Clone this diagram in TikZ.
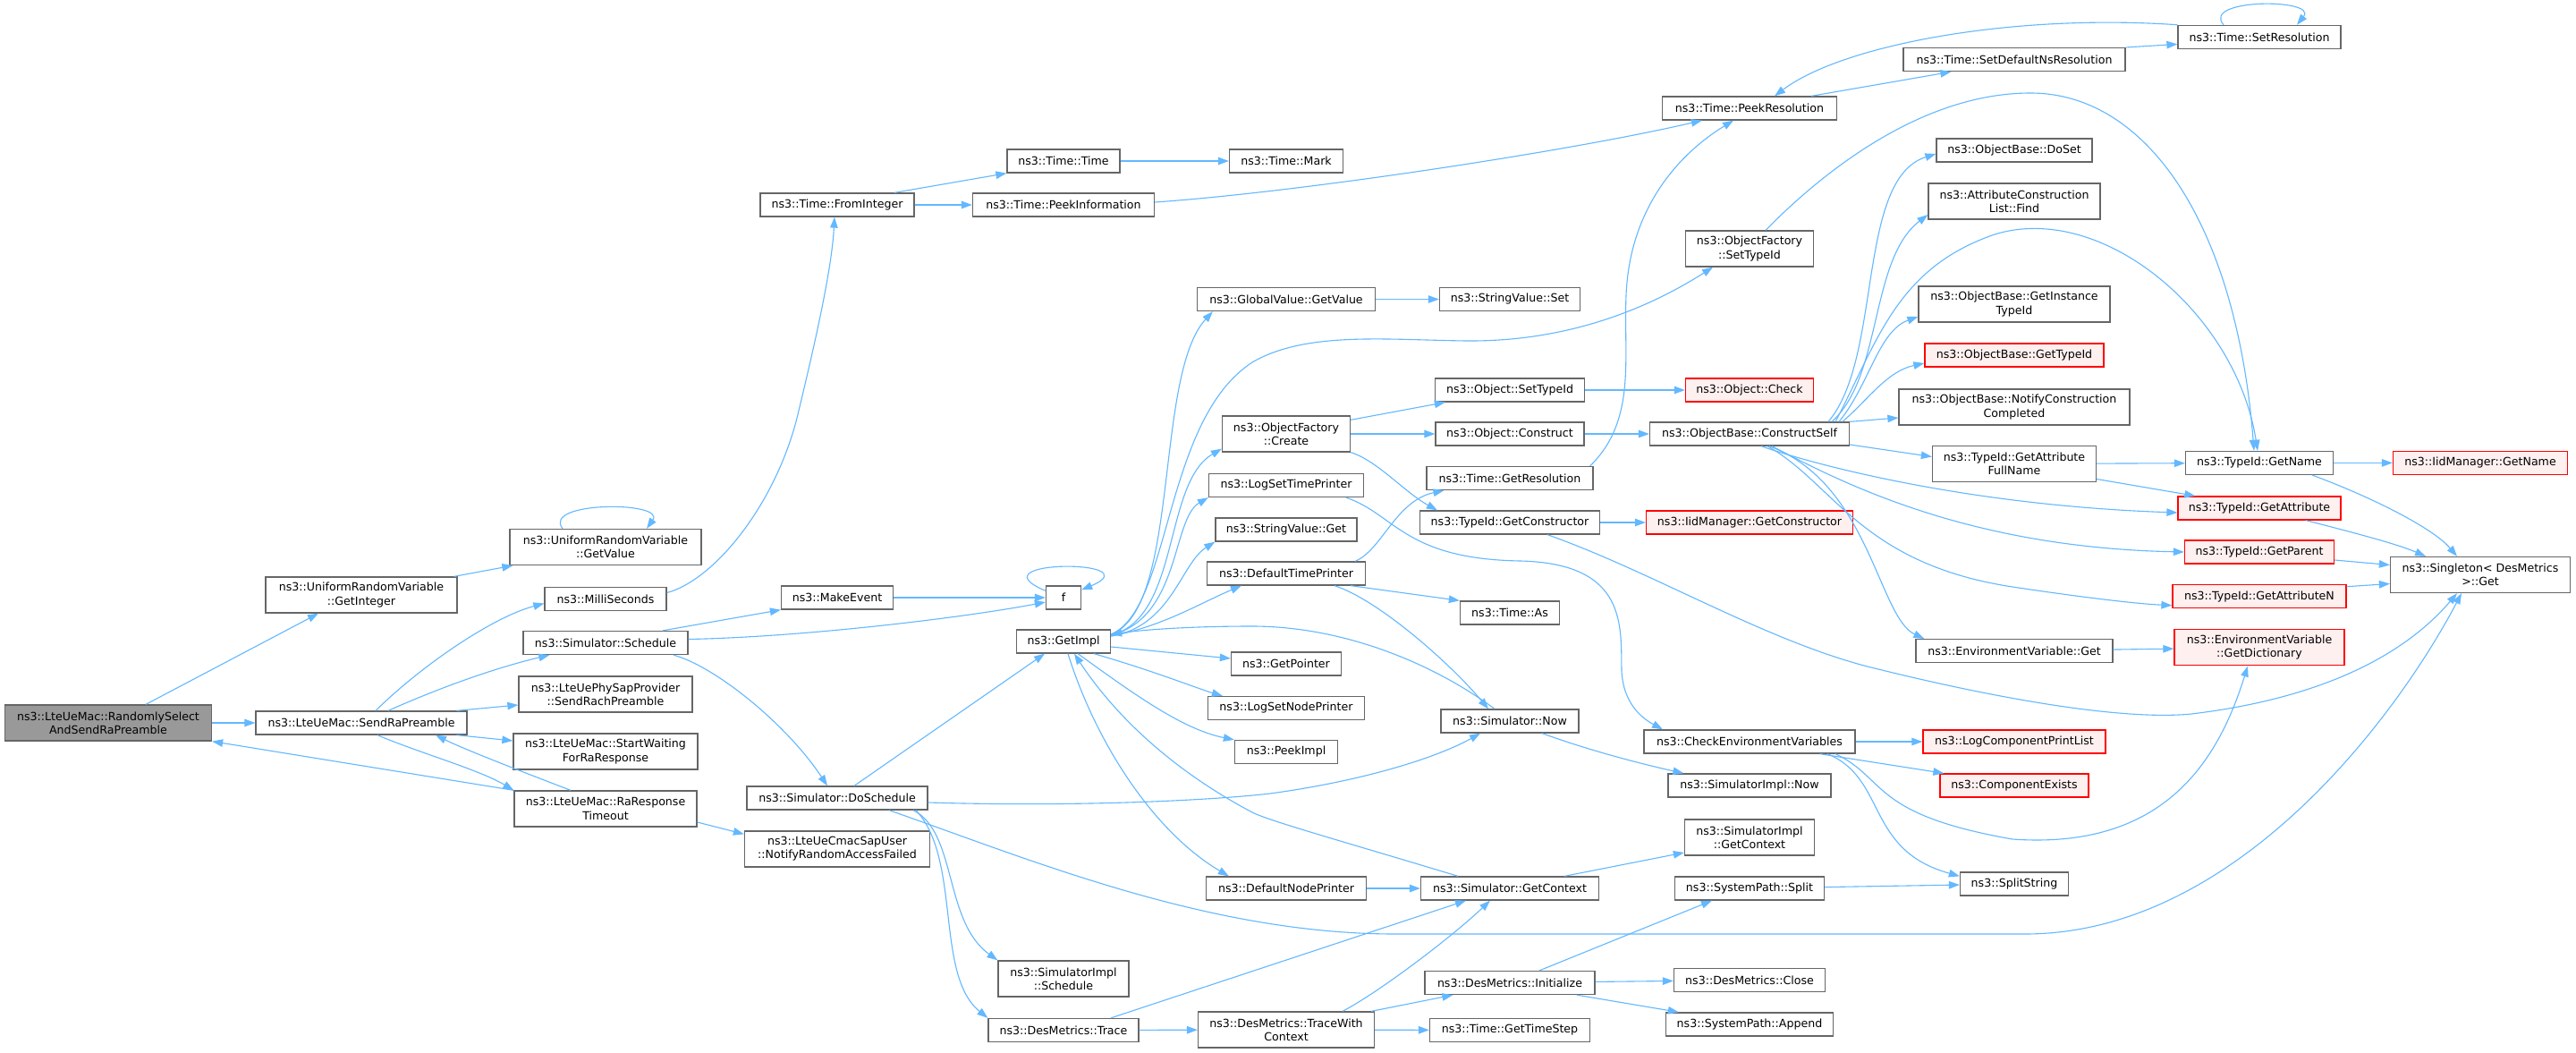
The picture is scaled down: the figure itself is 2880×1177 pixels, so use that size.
\documentclass[tikz,border=0pt]{standalone}
\usepackage{fontspec}
\setmainfont{DejaVu Sans}
\usetikzlibrary{arrows.meta}
\definecolor{edgeblue}{HTML}{63B8FF}
\definecolor{boxgray}{HTML}{666666}
\definecolor{rootgray}{HTML}{999999}
\definecolor{redfill}{HTML}{FFF0F0}
\tikzstyle{call} = [rectangle, draw=boxgray, fill=white, line width=1.3pt, inner sep=0pt, minimum height=26, align=center, text=black, font=\fontsize{12.6}{15.2}\selectfont]
\tikzstyle{calltwo} = [call, minimum height=40]
\tikzstyle{startnode} = [calltwo, fill=rootgray]
\tikzstyle{truncated} = [call, draw=red, fill=redfill]
\tikzstyle{truncatedtwo} = [truncated, minimum height=40]
\tikzstyle{arrow} = [line width=1.1pt, draw=edgeblue, ->, >={Triangle[length=12pt,width=8.5pt]}]

\begin{document}
\begin{tikzpicture}[x=1pt, y=-1pt]
\useasboundingbox (0,0) rectangle (2880,1177);
\fill [white] (0,0) rectangle (2880,1177);

\node (rsel)      [startnode, minimum width=231] at (121,808)  {ns3::LteUeMac::RandomlySelect\\AndSendRaPreamble};
\node (getint)    [calltwo, minimum width=214]   at (404,665)  {ns3::UniformRandomVariable\\::GetInteger};
\node (sendra)    [call, minimum width=236]      at (404,808)  {ns3::LteUeMac::SendRaPreamble};
\node (getval)    [calltwo, minimum width=214]   at (677,611.5) {ns3::UniformRandomVariable\\::GetValue};
\node (milli)     [call, minimum width=136]      at (677,669.5) {ns3::MilliSeconds};
\node (sched)     [call, minimum width=184]      at (677,718.5) {ns3::Simulator::Schedule};
\node (rach)      [calltwo, minimum width=194]   at (677,776)  {ns3::LteUePhySapProvider\\::SendRachPreamble};
\node (startw)    [calltwo, minimum width=206]   at (677,840)  {ns3::LteUeMac::StartWaiting\\ForRaResponse};
\node (timeout)   [calltwo, minimum width=204]   at (677,904)  {ns3::LteUeMac::RaResponse\\Timeout};

\node (fromint)   [call, minimum width=172]      at (936,229)  {ns3::Time::FromInteger};
\node (mkevent)   [call, minimum width=125]      at (936,668)  {ns3::MakeEvent};
\node (dosched)   [call, minimum width=202]      at (936,892)  {ns3::Simulator::DoSchedule};
\node (notify)    [calltwo, minimum width=207]   at (936,949)  {ns3::LteUeCmacSapUser\\::NotifyRandomAccessFailed};

\node (ttime)     [call, minimum width=126]      at (1189,180) {ns3::Time::Time};
\node (peekinfo)  [call, minimum width=203]      at (1189,229) {ns3::Time::PeekInformation};
\node (ff)        [call, minimum width=39]       at (1189,668) {f};
\node (getimpl)   [call, minimum width=105]      at (1189,717) {ns3::GetImpl};
\node (implsched) [calltwo, minimum width=146]   at (1189,1094) {ns3::SimulatorImpl\\::Schedule};
\node (trace)     [call, minimum width=168]      at (1189,1151.5) {ns3::DesMetrics::Trace};

\node (mark)      [call, minimum width=127]      at (1438,180) {ns3::Time::Mark};
\node (gvget)     [call, minimum width=199]      at (1438,334.5) {ns3::GlobalValue::GetValue};
\node (ofcreate)  [calltwo, minimum width=143]   at (1438,485) {ns3::ObjectFactory\\::Create};
\node (logtime)   [call, minimum width=173]      at (1438,542.5) {ns3::LogSetTimePrinter};
\node (svget)     [call, minimum width=158]      at (1438,592) {ns3::StringValue::Get};
\node (deftime)   [call, minimum width=177]      at (1438,641) {ns3::DefaultTimePrinter};
\node (getptr)    [call, minimum width=123]      at (1438,742) {ns3::GetPointer};
\node (lognode)   [call, minimum width=175]      at (1438,791.5) {ns3::LogSetNodePrinter};
\node (peekimpl)  [call, minimum width=115]      at (1438,840.5) {ns3::PeekImpl};
\node (defnode)   [call, minimum width=179]      at (1438,993) {ns3::DefaultNodePrinter};
\node (tracectx)  [calltwo, minimum width=197]   at (1438,1151) {ns3::DesMetrics::TraceWith\\Context};

\node (svset)     [call, minimum width=157]      at (1688,334.5) {ns3::StringValue::Set};
\node (objsettid) [call, minimum width=167]      at (1688,436) {ns3::Object::SetTypeId};
\node (objconstr) [call, minimum width=166]      at (1688,485) {ns3::Object::Construct};
\node (getres)    [call, minimum width=186]      at (1688,534.5) {ns3::Time::GetResolution};
\node (getctor)   [call, minimum width=201]      at (1688,584) {ns3::TypeId::GetConstructor};
\node (timeas)    [call, minimum width=111]      at (1688,685) {ns3::Time::As};
\node (simnow)    [call, minimum width=154]      at (1688,806) {ns3::Simulator::Now};
\node (simctx)    [call, minimum width=199]      at (1688,993) {ns3::Simulator::GetContext};
\node (dminit)    [call, minimum width=190]      at (1688,1098.5) {ns3::DesMetrics::Initialize};
\node (timestep)  [call, minimum width=179]      at (1688,1151.5) {ns3::Time::GetTimeStep};

\node (peekres)   [call, minimum width=195]      at (1956,121) {ns3::Time::PeekResolution};
\node (ofsettid)  [calltwo, minimum width=143]   at (1956,278) {ns3::ObjectFactory\\::SetTypeId};
\node (objcheck)  [truncated, minimum width=143] at (1956,436) {ns3::Object::Check};
\node (constself) [call, minimum width=223]      at (1956,485) {ns3::ObjectBase::ConstructSelf};
\node (iidctor)   [truncated, minimum width=231] at (1956,584) {ns3::IidManager::GetConstructor};
\node (checkenv)  [call, minimum width=236]      at (1956,829) {ns3::CheckEnvironmentVariables};
\node (implnow)   [call, minimum width=182]      at (1956,878) {ns3::SimulatorImpl::Now};
\node (implctx)   [calltwo, minimum width=145]   at (1956,936) {ns3::SimulatorImpl\\::GetContext};
\node (spsplit)   [call, minimum width=167]      at (1956,993) {ns3::SystemPath::Split};
\node (dmclose)   [call, minimum width=169]      at (1956,1095.5) {ns3::DesMetrics::Close};
\node (spappend)  [call, minimum width=187]      at (1956,1145) {ns3::SystemPath::Append};

\node (setdefns)  [call, minimum width=248]      at (2252,66.6) {ns3::Time::SetDefaultNsResolution};
\node (doset)     [call, minimum width=174]      at (2252,168) {ns3::ObjectBase::DoSet};
\node (attrfind)  [calltwo, minimum width=192]   at (2252,225) {ns3::AttributeConstruction\\List::Find};
\node (getinst)   [calltwo, minimum width=214]   at (2252,340) {ns3::ObjectBase::GetInstance\\TypeId};
\node (obgettid)  [truncated, minimum width=200] at (2252,397) {ns3::ObjectBase::GetTypeId};
\node (notifycc)  [calltwo, minimum width=258]   at (2252,455) {ns3::ObjectBase::NotifyConstruction\\Completed};
\node (attrfull)  [calltwo, minimum width=183]   at (2252,518.5) {ns3::TypeId::GetAttribute\\FullName};
\node (envget)    [call, minimum width=220]      at (2252,727.6) {ns3::EnvironmentVariable::Get};
\node (logcpl)    [truncated, minimum width=204] at (2252,829) {ns3::LogComponentPrintList};
\node (compex)    [truncated, minimum width=166] at (2252,878) {ns3::ComponentExists};
\node (splitstr)  [call, minimum width=121]      at (2252,988) {ns3::SplitString};

\node (setres)    [call, minimum width=182]      at (2526,41.4) {ns3::Time::SetResolution};
\node (tidname)   [call, minimum width=165]      at (2526,517.4) {ns3::TypeId::GetName};
\node (tidattr)   [truncated, minimum width=182] at (2526,568) {ns3::TypeId::GetAttribute};
\node (tidparent) [truncated, minimum width=167] at (2526,617) {ns3::TypeId::GetParent};
\node (tidattrn)  [truncated, minimum width=194] at (2526,666.7) {ns3::TypeId::GetAttributeN};
\node (envdict)   [truncatedtwo, minimum width=190] at (2526,723.8) {ns3::EnvironmentVariable\\::GetDictionary};

\node (iidname)   [truncated, minimum width=195] at (2773,517.4) {ns3::IidManager::GetName};
\node (singleton) [calltwo, minimum width=201]   at (2773,642.5) {ns3::Singleton< DesMetrics\\ >::Get};

% callers on the left
\draw [arrow] ([xshift=42]rsel.north) -- ([xshift=-48]getint.south);
\draw [arrow] (rsel) -- (sendra);
\draw [arrow] ([xshift=-4]getint.north east) -- ([xshift=4]getval.south west);
\draw [arrow] ([xshift=-48]getval.north) .. controls (605,560) and (745,560) .. ([xshift=46]getval.north);
\draw [arrow] ([xshift=16]sendra.north) .. controls (470,745) and (550,690) .. ([yshift=-5]milli.west);
\draw [arrow] ([xshift=30]sendra.north) .. controls (500,765) and (560,745) .. ([xshift=30]sched.south west);
\draw [arrow] ([xshift=-12]sendra.north east) -- ([yshift=-12]rach.west);
\draw [arrow] ([xshift=-12]sendra.south east) -- ([yshift=12]startw.west);
\draw [arrow] ([xshift=18]sendra.south) .. controls (470,842) and (535,860) .. (timeout.north west);
\draw [arrow] ([xshift=-39]timeout.north) .. controls (590,865) and (520,838) .. ([xshift=83]sendra.south);
\draw [arrow] (timeout.north west) -- (rsel.south east);
\draw [arrow] ([yshift=-15]timeout.east) -- ([yshift=-4]notify.north west);

\draw [arrow] ([yshift=7]milli.east) .. controls (800,648) and (870,560) .. (893,459) .. controls (912,380) and (930,300) .. ([xshift=-3]fromint.south);
\draw [arrow] ([xshift=64]fromint.north) -- (ttime.south west);
\draw [arrow] (fromint) -- (peekinfo);
\draw [arrow] (ttime) -- (mark);
\draw [arrow] ([yshift=3]peekinfo.east) .. controls (1450,215) and (1750,170) .. ([xshift=45]peekres.south west);
\draw [arrow] ([xshift=64]sched.north) -- (mkevent.south west);
\draw [arrow] ([yshift=4]sched.east) .. controls (900,712) and (1080,690) .. ([yshift=-5]ff.west);
\draw [arrow] ([xshift=76]sched.south) .. controls (800,745) and (880,810) .. ([xshift=-11]dosched.north);
\draw [arrow] (mkevent) -- (ff);
\draw [arrow] ([yshift=-6]ff.north west) .. controls (1085,625) and (1290,625) .. ([yshift=-5]ff.north east);

\draw [arrow] ([xshift=19]dosched.north) -- ([xshift=-21]getimpl.south);
\draw [arrow] ([yshift=-5]dosched.east) .. controls (1200,902) and (1350,895) .. (1420,887) .. controls (1530,872) and (1610,845) .. ([xshift=-33]simnow.south);
\draw [arrow] ([xshift=58]dosched.south) .. controls (1150,960) and (1350,1044) .. (1560,1044) -- (2264,1044) .. controls (2500,1044) and (2680,800) .. ([xshift=-21]singleton.south);
\draw [arrow] ([xshift=85]dosched.south) .. controls (1070,930) and (1055,1030) .. (implsched.north west);
\draw [arrow] ([xshift=88]dosched.south) .. controls (1075,960) and (1045,1090) .. (trace.north west);

% GetImpl
\draw [arrow] ([yshift=8]getimpl.east) .. controls (1320,680) and (1290,420) .. ([xshift=18]gvget.south west);
\draw [arrow] ([yshift=8]getimpl.east) .. controls (1310,680) and (1300,470) .. (1400,405) .. controls (1460,370) and (1550,380) .. (1640,381) .. controls (1760,382) and (1850,340) .. ([xshift=-41]ofsettid.south);
\draw [arrow] ([yshift=7]getimpl.east) .. controls (1320,690) and (1300,540) .. ([yshift=4]ofcreate.south west);
\draw [arrow] ([yshift=7]getimpl.east) .. controls (1320,690) and (1310,580) .. (logtime.south west);
\draw [arrow] ([yshift=6]getimpl.east) .. controls (1310,700) and (1320,630) .. (svget.south west);
\draw [arrow] ([yshift=6]getimpl.east) .. controls (1300,700) and (1340,675) .. ([xshift=39]deftime.south west);
\draw [arrow] ([xshift=-17]simnow.north) .. controls (1600,740) and (1500,700) .. (1400,700) .. controls (1320,700) and (1270,705) .. ([yshift=8]getimpl.east);
\draw [arrow] ([yshift=-6]getimpl.east) -- ([yshift=6]getptr.west);
\draw [arrow] ([xshift=34]getimpl.south) .. controls (1290,750) and (1340,770) .. ([xshift=17]lognode.north west);
\draw [arrow] ([xshift=16]getimpl.south) .. controls (1260,770) and (1320,815) .. (peekimpl.north west);
\draw [arrow] ([xshift=5]getimpl.south) .. controls (1225,830) and (1290,930) .. ([xshift=26]defnode.north west);
\draw [arrow] ([xshift=-58]simctx.north) .. controls (1500,940) and (1420,918) .. (1400,908) .. controls (1300,855) and (1240,790) .. ([xshift=12]getimpl.south);

\draw [arrow] (gvget) -- (svset);
\draw [arrow] ([yshift=-5]ofcreate.north east) -- ([xshift=12]objsettid.south west);
\draw [arrow] (ofcreate) -- (objconstr);
\draw [arrow] (ofcreate.south east) .. controls (1540,515) and (1570,550) .. ([xshift=20]getctor.north west);
\draw [arrow] ([xshift=-17]deftime.south east) -- (timeas.north west);
\draw [arrow] ([xshift=54]deftime.south) .. controls (1540,670) and (1620,740) .. ([xshift=-24]simnow.north);
\draw [arrow] ([xshift=77]deftime.north) .. controls (1545,615) and (1560,560) .. ([xshift=20]getres.south west);
\draw [arrow] ([xshift=67]logtime.south) .. controls (1560,575) and (1570,625) .. (1700,627) .. controls (1820,630) and (1812,700) .. (1813,750) .. controls (1815,790) and (1840,805) .. ([xshift=-97]checkenv.north);
\draw [arrow] (defnode) -- (simctx);
\draw [arrow] ([xshift=53]trace.north) -- ([xshift=-49]simctx.south);
\draw [arrow] (trace) -- (tracectx);
\draw [arrow] ([xshift=63]tracectx.north) .. controls (1540,1110) and (1620,1050) .. ([xshift=-22]simctx.south);
\draw [arrow] ([xshift=-4]tracectx.north east) -- ([xshift=32]dminit.south west);
\draw [arrow] (tracectx) -- (timestep);

\draw [arrow] (objsettid) -- (objcheck);
\draw [arrow] (objconstr) -- (constself);
\draw [arrow] ([xshift=-4]getres.north east) .. controls (1830,470) and (1815,400) .. (1818,330) .. controls (1822,230) and (1880,170) .. ([xshift=-18]peekres.south);
\draw [arrow] (getctor) -- (iidctor);
\draw [arrow] ([xshift=42]getctor.south) .. controls (1850,640) and (1980,720) .. (2100,748) .. controls (2250,785) and (2380,805) .. (2450,798) .. controls (2600,780) and (2690,730) .. ([xshift=-26]singleton.south);
\draw [arrow] ([xshift=36]simnow.south) .. controls (1780,840) and (1840,855) .. ([xshift=18]implnow.north west);
\draw [arrow] ([xshift=61]simctx.north) -- ([yshift=-17]implctx.west);
\draw [arrow] ([xshift=33]dminit.north) -- ([xshift=-42]spsplit.south);
\draw [arrow] (dminit) -- (dmclose);
\draw [arrow] ([xshift=75]dminit.south) -- ([xshift=15]spappend.north west);

% ConstructSelf and the time resolution
\draw [arrow] ([xshift=-29]peekres.north east) -- ([xshift=54]setdefns.south west);
\draw [arrow] (setres.north west) .. controls (2250,15) and (2060,50) .. ([xshift=28]peekres.north);
\draw [arrow] ([xshift=18]ofsettid.north) .. controls (2040,190) and (2150,104) .. (2270,104) .. controls (2400,104) and (2500,250) .. ([xshift=-6]tidname.north);
\draw [arrow] ([xshift=88]constself.north) .. controls (2105,400) and (2075,200) .. ([yshift=-4]doset.west);
\draw [arrow] ([xshift=92]constself.north) .. controls (2105,420) and (2090,290) .. ([yshift=-15]attrfind.west);
\draw [arrow] ([xshift=96]constself.north) .. controls (2100,380) and (2120,300) .. (2230,262) .. controls (2350,225) and (2500,350) .. ([xshift=-2]tidname.north);
\draw [arrow] ([xshift=100]constself.north) .. controls (2090,430) and (2100,370) .. ([yshift=-14]getinst.west);
\draw [arrow] ([xshift=104]constself.north) .. controls (2090,445) and (2110,415) .. ([yshift=-9]obgettid.west);
\draw [arrow] (constself.north east) -- ([yshift=-12]notifycc.west);
\draw [arrow] ([yshift=-12]constself.east) -- ([yshift=8]attrfull.west);
\draw [arrow] ([xshift=13]constself.south) .. controls (2030,520) and (2200,565) .. ([yshift=-5]tidattr.west);
\draw [arrow] ([xshift=25]constself.south) .. controls (2060,540) and (2200,612) .. (tidparent.west);
\draw [arrow] ([xshift=20]constself.south) .. controls (2050,540) and (2080,630) .. (2250,656) .. controls (2330,668) and (2390,675) .. ([yshift=-10]tidattrn.west);
\draw [arrow] ([xshift=22]constself.south) .. controls (2090,540) and (2100,690) .. ([xshift=10]envget.north west);

\draw [arrow] (checkenv) -- (logcpl);
\draw [arrow] ([xshift=-40]checkenv.south east) -- ([xshift=5]compex.north west);
\draw [arrow] ([xshift=96]checkenv.south) .. controls (2110,870) and (2090,910) .. (2250,938) .. controls (2420,950) and (2480,850) .. ([xshift=-13]envdict.south);
\draw [arrow] ([xshift=87]checkenv.south) .. controls (2110,870) and (2085,950) .. ([yshift=-5]splitstr.north west);
\draw [arrow] (spsplit) -- (splitstr);

\draw [arrow] (setdefns.north east) -- ([yshift=-8]setres.west);
\draw [arrow] ([xshift=-40]setres.north) .. controls (2460,-2) and (2592,-2) .. ([xshift=42]setres.north);
\draw [arrow] (attrfull) -- (tidname);
\draw [arrow] ([yshift=-17]attrfull.east) -- ([xshift=20]tidattr.north west);
\draw [arrow] (envget) -- (envdict);
\draw [arrow] (tidname) -- (iidname);
\draw [arrow] ([xshift=59]tidname.south) .. controls (2650,555) and (2720,590) .. ([xshift=-26]singleton.north);
\draw [arrow] ([xshift=52]tidattr.south) .. controls (2630,595) and (2680,608) .. ([xshift=-61]singleton.north);
\draw [arrow] ([yshift=-9]tidparent.east) -- ([yshift=11]singleton.west);
\draw [arrow] ([yshift=11]tidattrn.east) -- ([yshift=-10]singleton.west);
\end{tikzpicture}
\end{document}
